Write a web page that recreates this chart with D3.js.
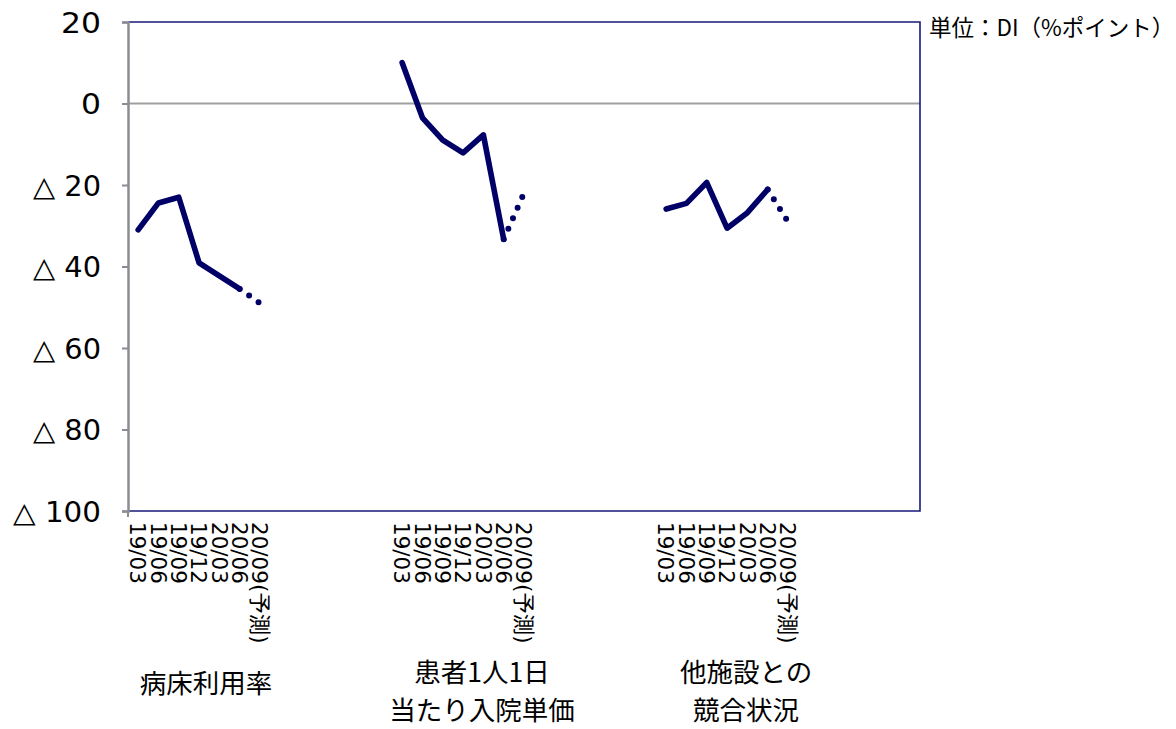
<!DOCTYPE html>
<html><head><meta charset="utf-8">
<script src="https://cdn.jsdelivr.net/npm/d3@7"></script>
<style>
html,body{margin:0;padding:0;background:#fff;}
svg{display:block;}
text{font-family:"DejaVu Sans","Noto Sans CJK JP",sans-serif;fill:#000;}
.cjk{font-family:"Noto Sans CJK JP","DejaVu Sans",sans-serif;}
</style></head>
<body>
<svg id="chart" width="1176" height="729"></svg>
<script>
// ---- data ----
const periods = ["19/03","19/06","19/09","19/12","20/03","20/06","20/09(予測)"];
const groups = [["病床利用率"],["患者1人1日","当たり入院単価"],["他施設との","競合状況"]];
const bedUtilization = [-31, -24.4, -23, -39.1, -42.3, -45.5, -49];
const unitPrice = [10, -3.5, -9, -12.1, -7.7, -33.3, -22];
const competition = [-25.9, -24.5, -19.4, -30.6, -26.8, -21.1, -29];
const seriesList = [bedUtilization, unitPrice, competition];
const yTicks = [20, 0, -20, -40, -60, -80, -100];
const unitLabel = "単位：DI（%ポイント）";
const gapSlots = 6;

// ---- layout ----
const svg = d3.select("#chart");
const pLeft = 128, pRight = 920, pTop = 22, pBottom = 511;
const slotsPerGroup = periods.length + gapSlots;
const nSlots = slotsPerGroup * groups.length;
const x = d3.scaleBand().domain(d3.range(nSlots)).range([pLeft, pRight]).padding(0);
const cx = i => x(i) + x.bandwidth() / 2;
const y = d3.scaleLinear().domain([-100, 20]).range([pBottom, pTop]);
const navy = "#000066";
const titleOffsets = [7, 19, 19];

// zero line
svg.append("line").attr("x1", pLeft).attr("x2", pRight).attr("y1", y(0)).attr("y2", y(0))
  .attr("stroke", "#a0a0a0").attr("stroke-width", 2);

// border (top, right, bottom)
svg.append("path").attr("d", `M${pLeft},${pTop}H${pRight}V${pBottom}H${pLeft}`)
  .attr("fill", "none").attr("stroke", "#1a1a7a").attr("stroke-width", 1.6);

// y axis
const fmt = d => d < 0 ? "△ " + Math.abs(d) : String(d);
const yAxis = d3.axisLeft(y).tickValues(yTicks).tickSize(6).tickPadding(21).tickFormat(fmt);
const gy = svg.append("g").attr("transform", `translate(${pLeft},0)`).call(yAxis);
gy.select(".domain").attr("stroke", "#8c8c94").attr("stroke-width", 2.5);
gy.selectAll(".tick line").attr("stroke", "#8c8c94").attr("stroke-width", 2);
gy.selectAll(".tick text").attr("font-size", 28).attr("fill", "#000")
  .attr("font-family", "DejaVu Sans, Noto Sans CJK JP, sans-serif").attr("dy", "0.36em")
  .attr("lengthAdjust", "spacingAndGlyphs")
  .attr("textLength", d => String(Math.abs(d)).length * 20 + (d < 0 ? 28 : 0));
svg.append("line").attr("x1", pLeft).attr("x2", pLeft).attr("y1", pBottom).attr("y2", pBottom + 6)
  .attr("stroke", "#8c8c94").attr("stroke-width", 2);

// x category labels (rotated)
groups.forEach((g, gi) => {
  periods.forEach((p, pi) => {
    const i = gi * slotsPerGroup + pi;
    svg.append("text")
      .attr("transform", `translate(${cx(i)},${pBottom + 11}) rotate(90)`)
      .attr("text-anchor", "start").attr("dy", "0.36em")
      .attr("font-size", 21.5).text(p);
  });
  // group title
  const mid = (cx(gi * slotsPerGroup) + cx(gi * slotsPerGroup + periods.length - 1)) / 2 + titleOffsets[gi];
  const baseY = g.length === 1 ? 693 : 682;
  g.forEach((t, li) => {
    svg.append("text").attr("class", "cjk").attr("x", mid).attr("y", baseY + li * 38)
      .attr("text-anchor", "middle").attr("font-size", 26.5).text(t);
  });
});

// lines
const lineGen = d3.line().x(d => cx(d.i)).y(d => y(d.v));
seriesList.forEach((vals, gi) => {
  const pts = vals.map((v, pi) => ({i: gi * slotsPerGroup + pi, v}));
  const solid = pts.slice(0, pts.length - 1);
  const dotted = pts.slice(pts.length - 2);
  svg.append("path").attr("d", lineGen(solid)).attr("fill", "none")
    .attr("stroke", navy).attr("stroke-width", 5.6).attr("stroke-linejoin", "round").attr("stroke-linecap", "round");
  svg.append("path").attr("d", lineGen(dotted)).attr("fill", "none")
    .attr("stroke", navy).attr("stroke-width", 6).attr("stroke-linecap", "round")
    .attr("stroke-dasharray", "0 11.5");
});

// unit label
svg.append("text").attr("class", "cjk").attr("x", 929).attr("y", 36)
  .attr("font-size", 22.5).text(unitLabel);
</script>
</body></html>
